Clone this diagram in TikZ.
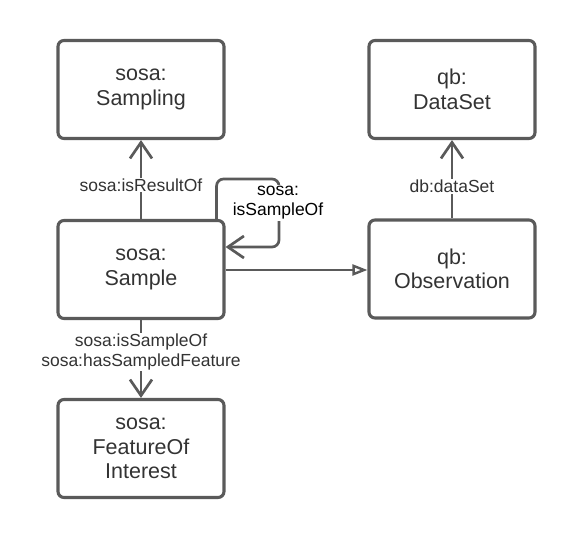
\documentclass[tikz,border=0pt]{standalone}
\usepackage{fontspec}
\setmainfont{Liberation Sans}
\usetikzlibrary{arrows.meta}
\definecolor{linegray}{HTML}{5A5A5A}
\definecolor{textgray}{HTML}{333333}
\tikzset{
  box/.style={draw=linegray, line width=3.1pt, rounded corners=6pt, minimum width=166pt, minimum height=98pt,
    align=center, text=textgray, font=\fontsize{21.5}{24.5}\selectfont, inner sep=0pt},
  conn/.style={draw=linegray, line width=2.7pt},
  barb/.style={-{Straight Barb[length=16pt,width=22pt,line width=2.7pt]}},
  hollow/.style={-{Triangle[open,length=15pt,width=11pt,line width=2.4pt]}},
  lbl/.style={fill=white, text=textgray, align=center, font=\fontsize{17.5}{20}\selectfont, inner sep=1pt},
}
\begin{document}
\begin{tikzpicture}[x=1pt,y=-1pt]
\useasboundingbox (0,0) rectangle (574,540);
\node[box] (sampling) at (141,89.5) {sosa:\\Sampling};
\node[box] (sample) at (141,269.5) {sosa:\\Sample};
\node[box] (foi) at (141,448.5) {sosa:\\FeatureOf\\Interest};
\node[box] (dataset) at (452,89.5) {qb:\\DataSet};
\node[box] (obs) at (452,269) {qb:\\Observation};
\draw[conn, barb] (sample) -- node[lbl, pos=0.43] {sosa:isResultOf} (sampling);
\draw[conn, barb] (obs) -- node[lbl, pos=0.41] {db:dataSet} (dataset);
\draw[conn, barb] (sample) -- node[lbl, pos=0.41] {sosa:isSampleOf\\sosa:hasSampledFeature} (foi);
\draw[conn, hollow] (sample.east |- 0,270) -- (obs.west |- 0,270);
\coordinate (loopA) at (279,179);
\coordinate (loopB) at (279,247);
\draw[conn, barb, rounded corners=7pt] ([xshift=-9pt]sample.north east) |- (loopA) -- (loopB) -- (sample.east |- loopB);
\node[lbl, text=black] (looplbl) at (278,203) {sosa:\\isSampleOf};
\end{tikzpicture}
\end{document}
